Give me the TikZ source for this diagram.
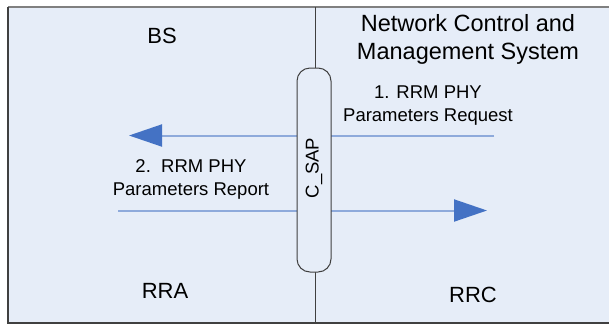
\documentclass[tikz,border=0pt]{standalone}
\usepackage{fontspec}
\setmainfont{Liberation Sans}
\usetikzlibrary{arrows.meta}
\definecolor{bgfill}{HTML}{E6EDF8}
\definecolor{linegray}{HTML}{404040}
\definecolor{toplinegray}{HTML}{808080}
\definecolor{arrline}{HTML}{8EAADB}
\definecolor{arrhead}{HTML}{4472C4}
\tikzset{
  px/.style={x=1pt,y=-1pt},
  msg/.style={draw=arrline,line width=2pt,-{Triangle[length=33pt,width=22pt,color=arrhead]}},
  msglbl/.style={font=\fontsize{18.5}{23}\selectfont,align=center,inner sep=0pt,anchor=north},
  titletext/.style={font=\fontsize{23.5}{28}\selectfont,align=center,inner sep=0pt,anchor=north},
  unitname/.style={font=\fontsize{22}{26}\selectfont,inner sep=0pt,anchor=base},
  sapbox/.style={draw=linegray,line width=1pt,fill=bgfill,rounded corners=13pt,minimum width=34pt,minimum height=204pt,inner sep=0pt}
}
\begin{document}
\begin{tikzpicture}[px]
\useasboundingbox (0,0) rectangle (609,325);
\fill[white] (0,0) rectangle (609,325);
\fill[bgfill] (8,7) rectangle (609,323);
\draw[toplinegray,line width=1.2pt] (8,7) -- (609,7);
\draw[linegray,line width=1.2pt] (8,7) -- (8,323) -- (609,323);
\coordinate (dtop) at (315,7);
\coordinate (dbot) at (315,323);
\draw[linegray,line width=1pt] (dtop) -- (dbot);
% arrows
\coordinate (a1s) at (494,135.5);
\coordinate (a1e) at (129,135.5);
\coordinate (a2s) at (118,210.5);
\coordinate (a2e) at (487,210.5);
\draw[msg] (a1s) -- (a1e);
\draw[msg] (a2s) -- (a2e);
% capsule
\node[sapbox] (sap) at (314,170) {};
\node[rotate=90,font=\fontsize{18.5}{22}\selectfont,inner sep=0pt] (saplbl) at (314,168) {C\_SAP};
% texts
\node[titletext] (ncms) at (468,14) {Network Control and\\Management System};
\node[unitname] (bs) at (162,43) {BS};
\node[unitname] (rra) at (165,298) {RRA};
\node[unitname] (rrc) at (473,302) {RRC};
\node[msglbl] (req) at (428,86) {1. RRM PHY\\Parameters Request};
\node[msglbl] (rep) at (191,159.5) {2.\ \ RRM PHY\\Parameters Report};
\end{tikzpicture}
\end{document}
